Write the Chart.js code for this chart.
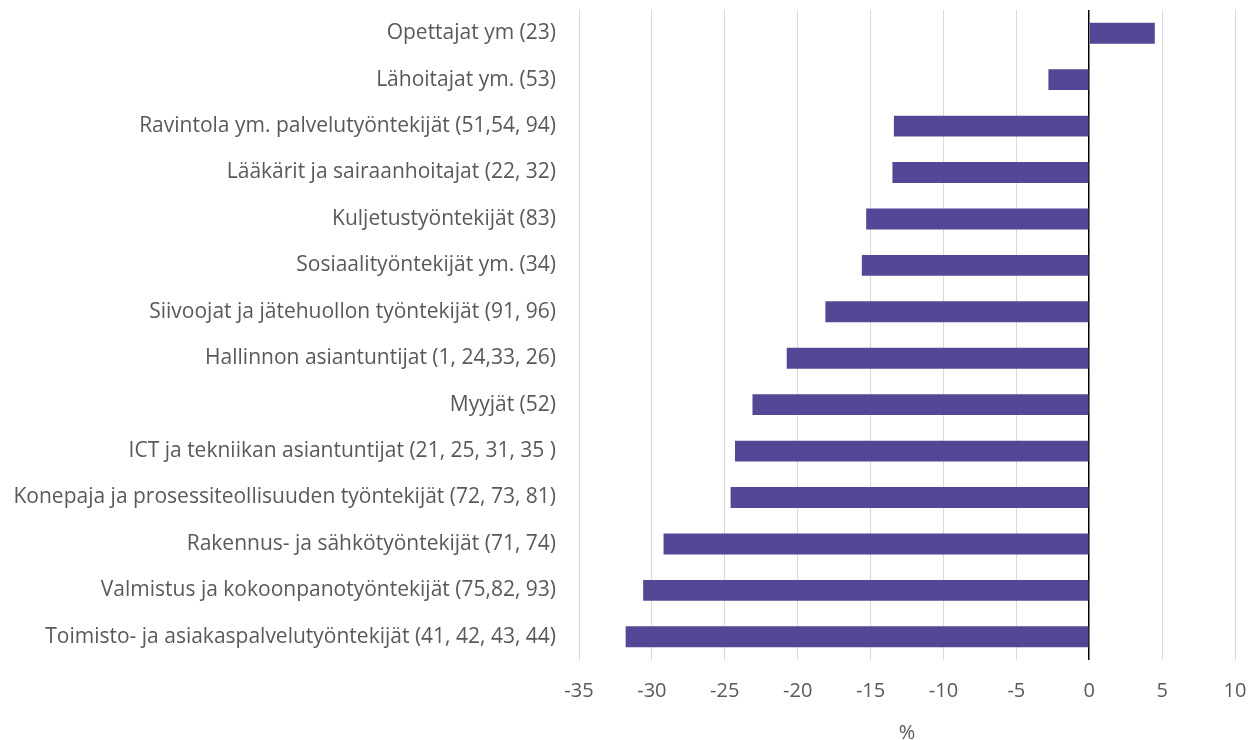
<!DOCTYPE html>
<html>
<head>
<meta charset="utf-8">
<script src="https://cdn.jsdelivr.net/npm/chart.js@4"></script>
<style>
html,body{margin:0;padding:0;background:#fff;}
#wrap{width:1248px;height:740px;}
</style>
</head>
<body>
<div id="wrap"><canvas id="c" width="1248" height="740"></canvas></div>
<script>
const categories = [
  "Opettajat ym (23)",
  "Lähoitajat ym. (53)",
  "Ravintola ym. palvelutyöntekijät (51,54, 94)",
  "Lääkärit ja sairaanhoitajat (22, 32)",
  "Kuljetustyöntekijät (83)",
  "Sosiaalityöntekijät ym. (34)",
  "Siivoojat ja jätehuollon työntekijät (91, 96)",
  "Hallinnon asiantuntijat (1, 24,33, 26)",
  "Myyjät (52)",
  "ICT ja tekniikan asiantuntijat (21, 25, 31, 35 )",
  "Konepaja ja prosessiteollisuuden työntekijät (72, 73, 81)",
  "Rakennus- ja sähkötyöntekijät (71, 74)",
  "Valmistus ja kokoonpanotyöntekijät (75,82, 93)",
  "Toimisto- ja asiakaspalvelutyöntekijät (41, 42, 43, 44)"
];
const values = [4.5, -2.8, -13.4, -13.5, -15.3, -15.6, -18.1, -20.75, -23.1, -24.3, -24.6, -29.2, -30.6, -31.8];
const xTicks = [-35, -30, -25, -20, -15, -10, -5, 0, 5, 10];

const FONT = "'Open Sans', Lato, sans-serif";
const TEXT = "#595959";

new Chart(document.getElementById('c'), {
  type: 'bar',
  data: {
    labels: categories,
    datasets: [{
      data: values,
      backgroundColor: '#554696',
      borderWidth: 0,
      barPercentage: 0.9,
      categoryPercentage: 0.5
    }]
  },
  options: {
    indexAxis: 'y',
    responsive: false,
    animation: false,
    devicePixelRatio: 1,
    layout: { padding: { top: 10, right: 13, left: 0, bottom: 0 } },
    plugins: { legend: { display: false }, tooltip: { enabled: false } },
    scales: {
      x: {
        min: xTicks[0],
        max: xTicks[xTicks.length - 1],
        afterBuildTicks: (s) => { s.ticks = xTicks.map(v => ({ value: v })); },
        afterFit: (s) => { s.height = 80; s.paddingLeft = 0; s.paddingRight = 0; },
        grid: {
          color: (ctx) => (ctx.tick && ctx.tick.value === 0) ? '#000000' : '#d9d9d9',
          lineWidth: (ctx) => (ctx.tick && ctx.tick.value === 0) ? 1.5 : 1,
          drawTicks: false
        },
        border: { display: false },
        ticks: { color: TEXT, font: { family: FONT, size: 20 }, padding: 19 },
        title: { display: true, text: '%', color: TEXT, font: { family: FONT, size: 20 }, padding: { top: 0, bottom: -5 } }
      },
      y: {
        afterFit: (s) => { s.width = 579; s.paddingTop = 0; s.paddingBottom = 0; },
        grid: { display: false, drawTicks: false },
        border: { display: false },
        ticks: { color: TEXT, font: { family: FONT, size: 21 }, padding: 23, autoSkip: false }
      }
    }
  }
});
</script>
</body>
</html>
